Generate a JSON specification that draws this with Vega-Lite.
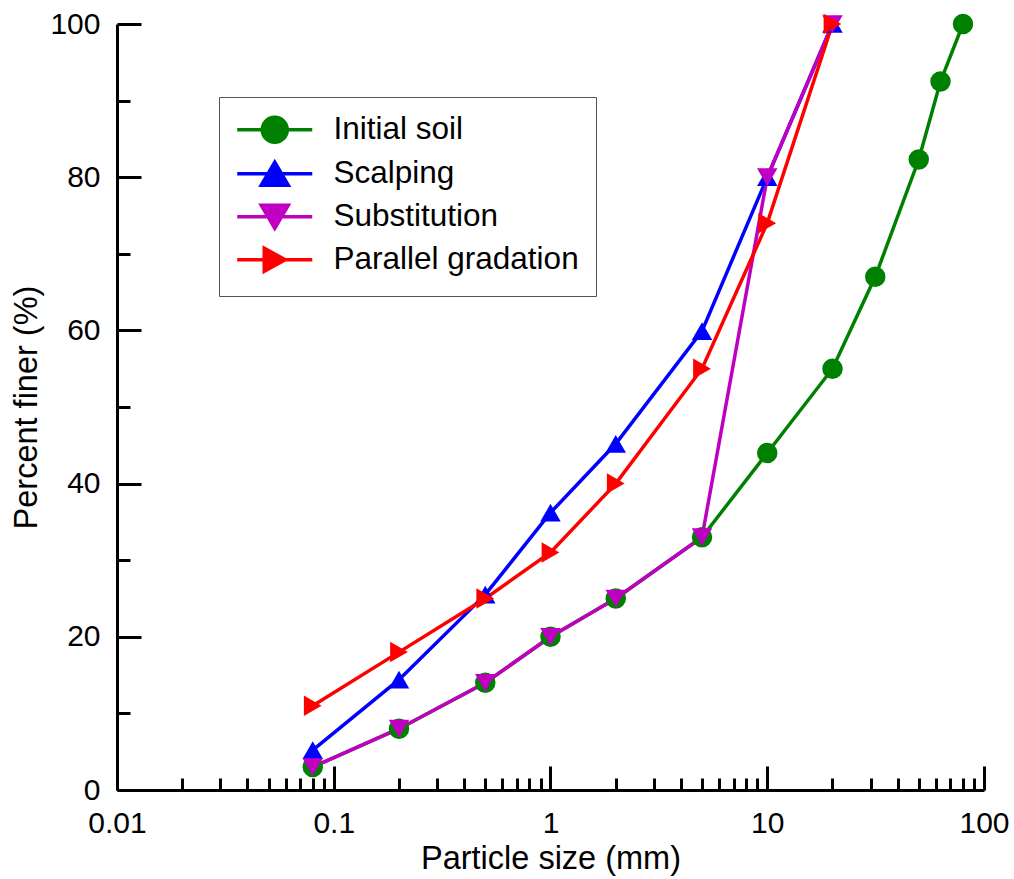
{
  "$schema": "https://vega.github.io/schema/vega-lite/v6.json",
  "width": 867,
  "height": 766,
  "autosize": {"type": "none"},
  "padding": {"left": 117, "top": 24, "right": 30, "bottom": 89},
  "background": "white",
  "config": {
    "view": {"stroke": null},
    "font": "Liberation Sans",
    "axis": {
      "domainColor": "black", "domainWidth": 3, "tickColor": "black", "tickWidth": 3,
      "labelFont": "Liberation Sans", "labelFontSize": 30, "labelColor": "black",
      "titleFont": "Liberation Sans", "titleFontSize": 32.5, "titleFontWeight": "normal", "titleColor": "black",
      "grid": false, "labelOverlap": false, "labelFlush": false
    }
  },
  "data": {"values": [
    {"series": "Initial soil", "size": 0.08, "finer": 3},
    {"series": "Initial soil", "size": 0.2, "finer": 8},
    {"series": "Initial soil", "size": 0.5, "finer": 14},
    {"series": "Initial soil", "size": 1, "finer": 20},
    {"series": "Initial soil", "size": 2, "finer": 25},
    {"series": "Initial soil", "size": 5, "finer": 33},
    {"series": "Initial soil", "size": 10, "finer": 44},
    {"series": "Initial soil", "size": 20, "finer": 55},
    {"series": "Initial soil", "size": 31.5, "finer": 67},
    {"series": "Initial soil", "size": 50, "finer": 82.3},
    {"series": "Initial soil", "size": 63, "finer": 92.5},
    {"series": "Initial soil", "size": 80, "finer": 100},
    {"series": "Scalping", "size": 0.08, "finer": 5.2},
    {"series": "Scalping", "size": 0.2, "finer": 14.4},
    {"series": "Scalping", "size": 0.5, "finer": 25.5},
    {"series": "Scalping", "size": 1, "finer": 36.2},
    {"series": "Scalping", "size": 2, "finer": 45.2},
    {"series": "Scalping", "size": 5, "finer": 59.9},
    {"series": "Scalping", "size": 10, "finer": 80},
    {"series": "Scalping", "size": 20, "finer": 100},
    {"series": "Substitution", "size": 0.08, "finer": 3},
    {"series": "Substitution", "size": 0.2, "finer": 8},
    {"series": "Substitution", "size": 0.5, "finer": 14},
    {"series": "Substitution", "size": 1, "finer": 20},
    {"series": "Substitution", "size": 2, "finer": 25},
    {"series": "Substitution", "size": 5, "finer": 33},
    {"series": "Substitution", "size": 10, "finer": 80},
    {"series": "Substitution", "size": 20, "finer": 100},
    {"series": "Parallel gradation", "size": 0.08, "finer": 11},
    {"series": "Parallel gradation", "size": 0.2, "finer": 18},
    {"series": "Parallel gradation", "size": 0.5, "finer": 25},
    {"series": "Parallel gradation", "size": 1, "finer": 31},
    {"series": "Parallel gradation", "size": 2, "finer": 40},
    {"series": "Parallel gradation", "size": 5, "finer": 55},
    {"series": "Parallel gradation", "size": 10, "finer": 74},
    {"series": "Parallel gradation", "size": 20, "finer": 100}
  ]},
  "encoding": {
    "x": {
      "field": "size", "type": "quantitative",
      "scale": {"type": "log", "domain": [0.01, 100], "nice": false},
      "axis": {
        "title": "Particle size (mm)",
        "values": [0.01,0.02,0.03,0.04,0.05,0.06,0.07,0.08,0.09,0.1,0.2,0.3,0.4,0.5,0.6,0.7,0.8,0.9,1,2,3,4,5,6,7,8,9,10,20,30,40,50,60,70,80,90,100],
        "labelExpr": "abs(log(datum.value)/LN10 - round(log(datum.value)/LN10)) < 1e-6 ? toString(datum.value) : ''",
        "tickSize": {"condition": {"test": "abs(log(datum.value)/LN10 - round(log(datum.value)/LN10)) < 1e-6", "value": -24}, "value": -12},
        "labelPadding": 42,
        "titlePadding": -8
      }
    },
    "y": {
      "field": "finer", "type": "quantitative",
      "scale": {"domain": [0, 100], "nice": false},
      "axis": {
        "title": "Percent finer (%)",
        "values": [0,10,20,30,40,50,60,70,80,90,100],
        "labelExpr": "datum.value % 20 === 0 ? toString(datum.value) : ''",
        "tickSize": {"condition": {"test": "datum.value % 20 === 0", "value": -24}, "value": -13},
        "labelPadding": 41,
        "titlePadding": 6
      }
    },
    "color": {
      "field": "series", "type": "nominal",
      "scale": {"domain": ["Initial soil", "Scalping", "Substitution", "Parallel gradation"], "range": ["#008000", "#0000FF", "#C000C0", "#FF0000"]},
      "legend": {
        "title": null,
        "orient": "none", "legendX": 102, "legendY": 73,
        "padding": 17,
        "strokeColor": "#555555", "fillColor": "white",
        "labelFont": "Liberation Sans", "labelFontSize": 31.5, "labelColor": "black", "labelLimit": 500,
        "symbolSize": 625, "symbolStrokeWidth": 3.5, "symbolOffset": 23, "labelOffset": 43,
        "rowPadding": 5,
        "encoding": {"symbols": {
          "shape": {"value": {"expr": "datum.value === 'Initial soil' ? 'M-3,0H3M1,0A1,1 0 1,1 -1,0A1,1 0 1,1 1,0Z' : datum.value === 'Scalping' ? 'M-3,0H3M0,-0.92L1.08,0.92L-1.08,0.92Z' : datum.value === 'Substitution' ? 'M-3,0H3M0,0.92L1.08,-0.92L-1.08,-0.92Z' : 'M-3,0H3M0.84,0L-0.84,0.92L-0.84,-0.92Z'"}},
          "strokeWidth": {"value": 3.5},
          "opacity": {"value": 1}
        }}
      }
    }
  },
  "layer": [
    {"mark": {"type": "line", "strokeWidth": 3.5}},
    {"transform": [{"filter": "datum.series === 'Initial soil'"}],
     "mark": {"type": "point", "shape": "circle", "filled": true, "size": 420, "opacity": 1}},
    {"transform": [{"filter": "datum.series === 'Scalping'"}],
     "mark": {"type": "point", "shape": "triangle-up", "filled": true, "size": 420, "opacity": 1}},
    {"transform": [{"filter": "datum.series === 'Substitution'"}],
     "mark": {"type": "point", "shape": "triangle-down", "filled": true, "size": 420, "opacity": 1}},
    {"transform": [{"filter": "datum.series === 'Parallel gradation'"}],
     "mark": {"type": "point", "shape": "triangle-right", "filled": true, "size": 420, "opacity": 1}}
  ]
}
